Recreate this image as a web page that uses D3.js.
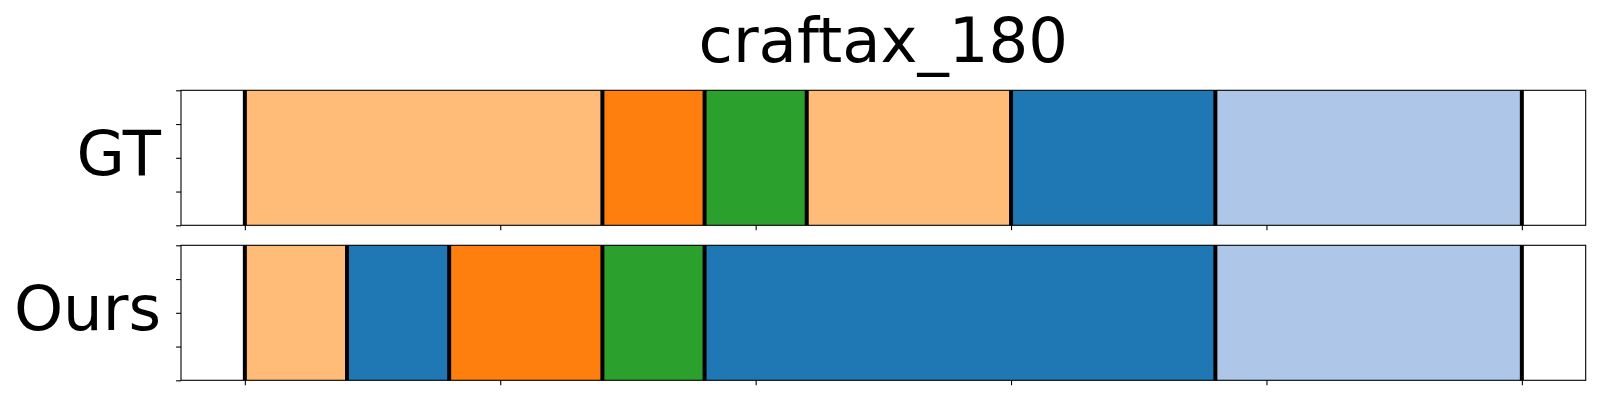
<!DOCTYPE html>
<html>
<head>
<meta charset="utf-8">
<script src="https://cdn.jsdelivr.net/npm/d3@7"></script>
<style>
  html, body { margin: 0; padding: 0; background: #fff; }
  svg { display: block; }
  text { font-family: "DejaVu Sans", sans-serif; fill: #000; }
</style>
</head>
<body>
<svg id="chart" width="1600" height="400"></svg>
<script>
// ---- data ----
const title = "craftax_180";
const rowLabels = ["GT", "Ours"];
const palette = ["#ffbb78", "#ff7f0e", "#2ca02c", "#1f77b4", "#aec7e8"];
const gtBounds = [0, 70, 90, 110, 150, 190, 250];
const gtClasses = [0, 1, 2, 0, 3, 4];
const oursBounds = [0, 20, 40, 70, 90, 190, 250];
const oursClasses = [0, 3, 1, 2, 3, 4];
const xTicks = [0, 50, 100, 150, 200, 250];
const yTicks = [0, 0.25, 0.5, 0.75, 1];

// ---- layout ----
const svg = d3.select("#chart");
const left = 181, right = 1585.7;
const panels = [
  { label: rowLabels[0], bounds: gtBounds, classes: gtClasses, top: 90.3, bottom: 225.3 },
  { label: rowLabels[1], bounds: oursBounds, classes: oursClasses, top: 245.3, bottom: 380.3 }
];
const xMin = 0, xMax = 250, pad = (xMax - xMin) * 0.05;
const x = d3.scaleLinear().domain([xMin - pad, xMax + pad]).range([left, right]);

svg.append("text")
  .attr("x", (left + right) / 2)
  .attr("y", 62.3)
  .attr("text-anchor", "middle")
  .style("font-size", "62.5px")
  .text(title);

panels.forEach(p => {
  const y = d3.scaleLinear().domain([0, 1]).range([p.bottom, p.top]);
  const g = svg.append("g");
  const segs = p.classes.map((c, i) => ({ x0: p.bounds[i], x1: p.bounds[i + 1], c }));
  g.selectAll("rect.seg").data(segs).join("rect")
    .attr("class", "seg")
    .attr("x", d => x(d.x0))
    .attr("width", d => x(d.x1) - x(d.x0))
    .attr("y", y(1))
    .attr("height", y(0) - y(1))
    .attr("fill", d => palette[d.c]);
  g.selectAll("line.bd").data(p.bounds).join("line")
    .attr("class", "bd")
    .attr("x1", d => x(d)).attr("x2", d => x(d))
    .attr("y1", y(1)).attr("y2", y(0))
    .attr("stroke", "#000").attr("stroke-width", 4);
  // frame
  g.append("rect")
    .attr("x", left).attr("y", p.top)
    .attr("width", right - left).attr("height", p.bottom - p.top)
    .attr("fill", "none").attr("stroke", "#000").attr("stroke-width", 1.1);
  // axes
  const ax = g.append("g").attr("transform", `translate(0,${p.bottom})`)
    .call(d3.axisBottom(x).tickValues(xTicks).tickSize(4.9).tickFormat(""));
  const ay = g.append("g").attr("transform", `translate(${left},0)`)
    .call(d3.axisLeft(y).tickValues(yTicks).tickSize(4.9).tickFormat(""));
  [ax, ay].forEach(a => {
    a.select(".domain").remove();
    a.selectAll(".tick line").attr("stroke", "#000").attr("stroke-width", 1.1);
  });
  // row label
  g.append("text")
    .attr("x", 161)
    .attr("y", (p.top + p.bottom) / 2 + 17)
    .attr("text-anchor", "end")
    .style("font-size", "62.5px")
    .text(p.label);
});
</script>
</body>
</html>
